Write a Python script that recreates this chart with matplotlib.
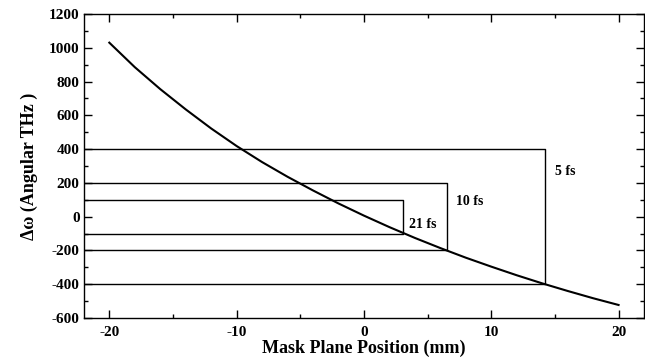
import numpy as np
import matplotlib.pyplot as plt

plt.rcParams['font.family'] = ['Liberation Serif', 'DejaVu Serif']
plt.rcParams['font.weight'] = 'bold'
plt.rcParams['axes.unicode_minus'] = False

# spectral shift across the mask plane
pos_mm = [-20, -18, -16, -14, -12, -10, -8, -6, -4, -2, 0,
          2, 4, 6, 8, 10, 12, 14, 16, 18, 20]
d_omega = [1030, 885, 755, 635, 522, 418, 323, 236, 155, 78, 6,
           -62, -126, -186, -243, -296, -347, -395, -440, -483, -523]

# bandwidth windows: pulse label, half width in angular THz, right edge on the mask (mm)
pulse_labels = ['5 fs', '10 fs', '21 fs']
half_width = [400, 200, 100]
edge_mm = [14.2, 6.5, 3.1]
label_xy = [(15.0, 265), (7.2, 89), (3.5, -45)]

fig = plt.figure(figsize=(6.45, 3.63), dpi=100)
ax = fig.add_axes([0.130, 0.124, 0.8685, 0.8376])

ax.plot(pos_mm, d_omega, color='black', lw=1.5)

x0 = -22
for lab, hw, xe, (tx, ty) in zip(pulse_labels, half_width, edge_mm, label_xy):
    ax.plot([x0, xe, xe, x0], [hw, hw, -hw, -hw], color='black', lw=1.0)
    ax.text(tx, ty, lab, fontsize=10, fontweight='bold', va='center', ha='left')

ax.set_xlim(-22, 22)
ax.set_ylim(-600, 1200)
ax.set_xticks([-20, -10, 0, 10, 20])
ax.set_xticks([-15, -5, 5, 15], minor=True)
ax.set_yticks(np.arange(-600, 1201, 200))
ax.set_yticks(np.arange(-500, 1200, 200), minor=True)

ax.tick_params(which='both', direction='in', top=True, right=True, width=1.0)
ax.tick_params(which='major', length=6, labelsize=11)
ax.tick_params(which='minor', length=3)
ax.tick_params(axis='x', pad=6)
ax.tick_params(axis='y', pad=3)
for lbl in ax.get_xticklabels() + ax.get_yticklabels():
    lbl.set_fontweight('bold')
for sp in ax.spines.values():
    sp.set_linewidth(1.0)

ax.set_xlabel('Mask Plane Position (mm)', fontsize=13, fontweight='bold', labelpad=0)
ax.set_ylabel('Δω (Angular THz )', fontsize=13, fontweight='bold', labelpad=8)

fig.savefig('out.png', dpi=100)
